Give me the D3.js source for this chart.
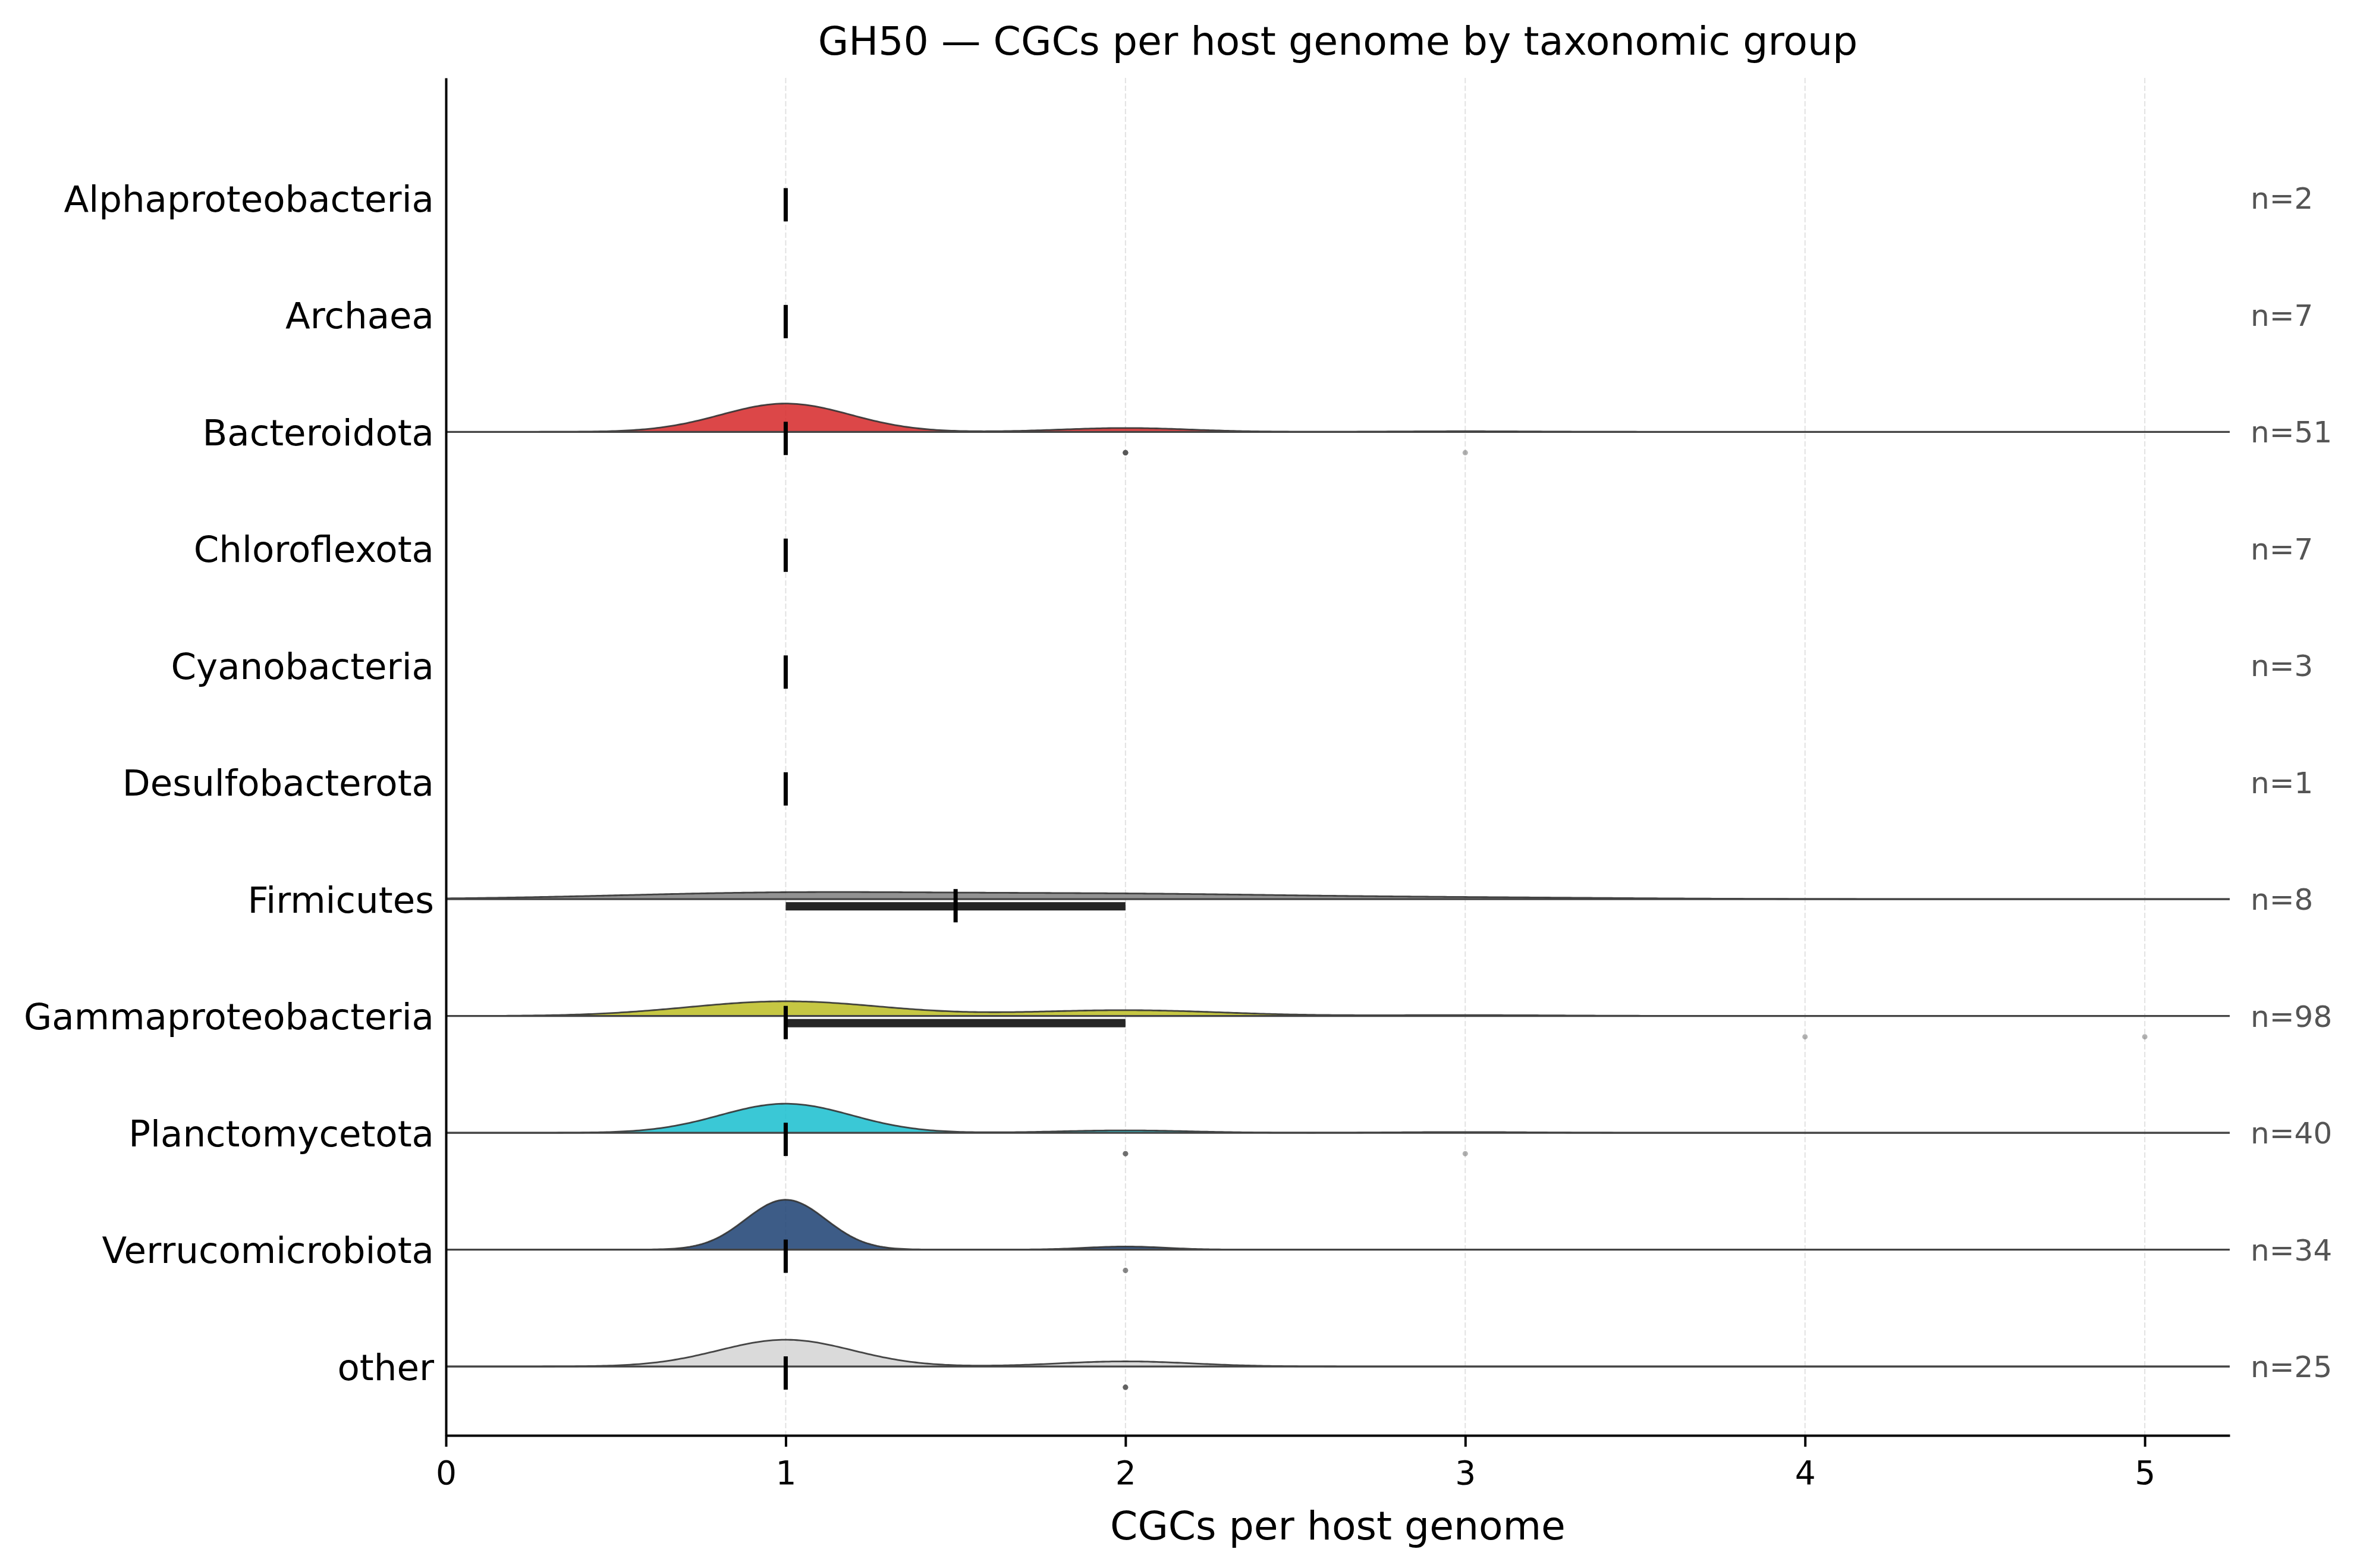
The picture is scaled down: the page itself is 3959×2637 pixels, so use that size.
<!DOCTYPE html>
<html>
<head>
<meta charset="utf-8">
<script src="https://cdn.jsdelivr.net/npm/d3@7"></script>
<style>
  body { margin: 0; background: #fff; }
  text { font-family: "DejaVu Sans", sans-serif; }
</style>
</head>
<body>
<script>
const groups = ['Alphaproteobacteria', 'Archaea', 'Bacteroidota', 'Chloroflexota', 'Cyanobacteria',
    'Desulfobacterota', 'Firmicutes', 'Gammaproteobacteria', 'Planctomycetota', 'Verrucomicrobiota', 'other']

// how many host genomes carry 1, 2, 3, 4, 5 CGCs
const cgcValues = [1, 2, 3, 4, 5]
const genomesWith1 = [2, 7, 44, 7, 3, 1, 4, 66, 36, 32, 21]
const genomesWith2 = [0, 0, 6, 0, 0, 0, 3, 26, 3, 2, 4]
const genomesWith3 = [0, 0, 1, 0, 0, 0, 1, 4, 1, 0, 0]
const genomesWith4 = [0, 0, 0, 0, 0, 0, 0, 1, 0, 0, 0]
const genomesWith5 = [0, 0, 0, 0, 0, 0, 0, 1, 0, 0, 0]

const ridgeColors = ['#1f77b4', '#ff7f0e', '#d62728', '#2ca02c', '#9467bd',
    '#8c564b', '#7f7f7f', '#bcbd22', '#17becf', '#1b3f72', '#d3d3d3']

const xTicks = [0, 1, 2, 3, 4, 5]

const WIDTH = 3959
const HEIGHT = 2637
const margin = { top: 131, bottom: 223, left: 750, right: 209 }

const svg = d3.select('body').append('svg')
    .attr('width', WIDTH)
    .attr('height', HEIGHT)

const x_scale = d3.scaleLinear()
    .domain([0, 5.25])
    .range([margin.left, WIDTH - margin.right])

const y_scale = d3.scaleLinear()
    .domain([-1.03, groups.length - 1 + 0.59])
    .range([margin.top, HEIGHT - margin.bottom])

const tableOfCounts = [genomesWith1, genomesWith2, genomesWith3, genomesWith4, genomesWith5]

const rows = groups.map((name, i) => {
    let values = []
    cgcValues.forEach((v, k) => {
        for (let j = 0; j < tableOfCounts[k][i]; j++) values.push(v)
    })
    values.sort(d3.ascending)
    const q1 = d3.quantile(values, 0.25)
    const med = d3.quantile(values, 0.5)
    const q3 = d3.quantile(values, 0.75)
    const iqr = q3 - q1
    const outliers = values.filter(v => v > q3 + 1.5 * iqr || v < q1 - 1.5 * iqr)
    return { name, i, values, q1, med, q3, outliers, color: ridgeColors[i] }
})

// gaussian kde, scott bandwidth
const grid = d3.range(0, 5.25 + 1e-9, 5.25 / 600)
rows.forEach(r => {
    const sd = r.values.length > 1 ? d3.deviation(r.values) : 0
    if (!sd) { r.kde = null; return }
    const bw = sd * Math.pow(r.values.length, -0.2)
    r.kde = grid.map(g => [g, d3.mean(r.values, v => Math.exp(-0.5 * ((g - v) / bw) ** 2)) / (bw * Math.sqrt(2 * Math.PI))])
})

const maxDensity = d3.max(rows.filter(r => r.kde), r => d3.max(r.kde, d => d[1]))
const rowStep = y_scale(1) - y_scale(0)
const ridgeScale = 0.427 * rowStep / maxDensity

// grid
svg.append('g')
    .selectAll('line')
    .data(xTicks.slice(1))
    .join('line')
        .attr('x1', d => x_scale(d))
        .attr('x2', d => x_scale(d))
        .attr('y1', margin.top)
        .attr('y2', HEIGHT - margin.bottom)
        .attr('stroke', '#e2e2e2')
        .attr('stroke-width', 2)
        .attr('stroke-dasharray', '9,4')

const rowG = svg.append('g')
    .selectAll('g')
    .data(rows)
    .join('g')
        .attr('transform', d => `translate(0,${y_scale(d.i)})`)

const area = d3.area()
    .x(d => x_scale(d[0]))
    .y0(0)
    .y1(d => -d[1] * ridgeScale)

const line = d3.line()
    .x(d => x_scale(d[0]))
    .y(d => -d[1] * ridgeScale)

rowG.filter(d => d.kde).append('path')
    .attr('d', d => area(d.kde))
    .attr('fill', d => d.color)
    .attr('fill-opacity', 0.85)

rowG.filter(d => d.kde).append('path')
    .attr('d', d => line(d.kde))
    .attr('fill', 'none')
    .attr('stroke', '#333')
    .attr('stroke-opacity', 0.9)
    .attr('stroke-width', 2.8)

rowG.filter(d => d.kde).append('line')
    .attr('x1', x_scale(0))
    .attr('x2', x_scale(5.25))
    .attr('stroke', '#444')
    .attr('stroke-width', 3.3)

rowG.filter(d => d.q3 > d.q1).append('rect')
    .attr('x', d => x_scale(d.q1))
    .attr('width', d => x_scale(d.q3) - x_scale(d.q1))
    .attr('y', 5)
    .attr('height', 14)
    .attr('fill', '#262626')

rowG.append('rect')
    .attr('x', d => x_scale(d.med) - 3.5)
    .attr('width', 7)
    .attr('y', -17)
    .attr('height', 56)
    .attr('fill', '#000')

rowG.selectAll('circle')
    .data(d => d.outliers)
    .join('circle')
        .attr('cx', d => x_scale(d))
        .attr('cy', 35)
        .attr('r', 4.5)
        .attr('fill', '#555')
        .attr('fill-opacity', 0.45)

rowG.append('text')
    .attr('x', 3785)
    .attr('dy', '0.36em')
    .attr('font-size', 50)
    .attr('fill', '#555')
    .text(d => `n=${d.values.length}`)

// axes
const xAxis = svg.append('g')
    .attr('transform', `translate(0,${HEIGHT - margin.bottom})`)
    .call(d3.axisBottom(x_scale).tickValues(xTicks).tickFormat(d3.format('d')).tickSize(19).tickPadding(24).tickSizeOuter(0))
xAxis.select('.domain').attr('stroke-width', 4)
xAxis.selectAll('.tick line').attr('stroke-width', 4)
xAxis.selectAll('.tick text').attr('font-size', 55).attr('font-family', '"DejaVu Sans", sans-serif')

const yAxis = svg.append('g')
    .attr('transform', `translate(${margin.left},0)`)
    .call(d3.axisLeft(y_scale).tickValues(d3.range(groups.length)).tickFormat(i => groups[i]).tickSize(0).tickPadding(20).tickSizeOuter(0))
yAxis.select('.domain').attr('stroke-width', 4)
yAxis.selectAll('.tick text').attr('font-size', 61).attr('dy', '0.36em').attr('font-family', '"DejaVu Sans", sans-serif')

svg.append('text')
    .attr('x', (margin.left + WIDTH - margin.right) / 2)
    .attr('y', 92)
    .attr('text-anchor', 'middle')
    .attr('font-size', 66.5)
    .text('GH50 — CGCs per host genome by taxonomic group')

svg.append('text')
    .attr('x', (margin.left + WIDTH - margin.right) / 2)
    .attr('y', 2589)
    .attr('text-anchor', 'middle')
    .attr('font-size', 66.3)
    .text('CGCs per host genome')
</script>
</body>
</html>
